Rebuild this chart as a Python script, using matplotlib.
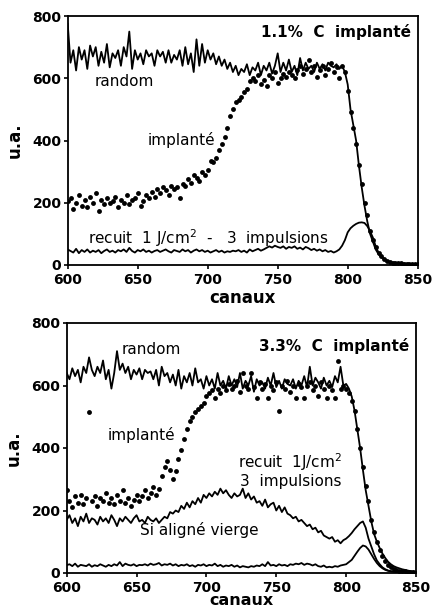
import numpy as np
import matplotlib
matplotlib.use("Agg")
import matplotlib.pyplot as plt

# channels (every 2 channels from 600 to 850)
canaux = np.arange(600, 851, 2)

# ---------------- panel 1 : 1.1% C implanté ----------------
random_1 = [775, 650, 690, 625, 700, 660, 690, 630, 705, 670,
            700, 640, 685, 650, 710, 635, 680, 665, 690, 640,
            700, 670, 750, 630, 690, 660, 680, 645, 690, 670,
            680, 640, 690, 670, 685, 650, 690, 650, 675, 660,
            690, 640, 700, 645, 680, 620, 725, 640, 710, 650,
            690, 660, 680, 645, 670, 640, 660, 630, 650, 620,
            640, 610, 630, 620, 645, 610, 635, 625, 650, 610,
            640, 625, 650, 615, 640, 680, 620, 650, 625, 660,
            620, 640, 610, 665, 625, 650, 630, 640, 620, 650,
            630, 645, 625, 650, 640, 635, 645, 630, 640, 620,
            580, 500, 450, 400, 320, 250, 190, 140, 100, 75,
            50, 35, 25, 18, 12, 8, 6, 5, 5, 4,
            4, 4, 3, 3, 3, 3]

implante_1 = [205, 215, 180, 200, 225, 190, 210, 185, 220, 200,
              230, 175, 210, 195, 215, 200, 205, 220, 185, 210,
              200, 225, 195, 210, 215, 230, 190, 205, 225, 215,
              235, 220, 245, 230, 250, 240, 225, 255, 245, 250,
              215, 260, 255, 275, 265, 290, 280, 270, 300, 290,
              305, 335, 330, 345, 370, 390, 410, 440, 480, 500,
              525, 530, 540, 555, 565, 590, 600, 590, 610, 580,
              595, 575, 610, 600, 620, 585, 600, 615, 605, 620,
              610, 600, 625, 640, 615, 630, 660, 620, 640, 605,
              625, 640, 610, 630, 650, 620, 635, 600, 640, 620,
              560, 490, 440, 390, 320, 260, 200, 160, 110, 80,
              58, 40, 28, 20, 14, 10, 8, 6, 5, 5,
              4, 4, 3, 3, 3, 2]

recuit_1 = [50, 45, 40, 52, 38, 48, 42, 50, 40, 46,
            42, 48, 38, 45, 50, 42, 46, 40, 48, 44,
            50, 42, 55, 45, 40, 48, 44, 50, 42, 46,
            40, 45, 48, 42, 46, 50, 44, 40, 48, 45,
            42, 50, 44, 48, 40, 46, 50, 44, 48, 42,
            46, 40, 44, 48, 42, 46, 40, 44, 42, 46,
            44, 48, 42, 46, 40, 50, 44, 48, 52, 46,
            50, 55, 60, 56, 62, 58, 55, 60, 52, 58,
            55, 60, 52, 56, 50, 58, 54, 48, 52, 46,
            50, 44, 48, 42, 45, 40, 44, 50, 62, 80,
            105, 118, 126, 132, 136, 137, 135, 125, 108, 88,
            60, 40, 28, 20, 14, 10, 8, 7, 6, 5,
            5, 4, 4, 3, 3, 3]

# ---------------- panel 2 : 3.3% C implanté ----------------
random_2 = [640, 620, 655, 630, 650, 610, 660, 640, 690, 650,
            630, 660, 640, 680, 620, 650, 590, 640, 710, 650,
            670, 640, 660, 620, 650, 635, 655, 620, 650, 640,
            645, 620, 650, 600, 660, 630, 640, 610, 635, 600,
            650, 590, 630, 610, 640, 600, 655, 610, 620, 590,
            630, 600, 620, 590, 640, 600, 615, 590, 630, 600,
            620, 595, 640, 590, 615, 600, 630, 580, 620, 600,
            610, 590, 625, 600, 640, 595, 615, 590, 620, 605,
            600, 620, 590, 615, 600, 630, 595, 660, 600, 625,
            610, 590, 625, 600, 615, 595, 630, 610, 660, 600,
            605, 590, 565, 520, 460, 400, 330, 265, 215, 165,
            125, 100, 80, 62, 48, 36, 28, 22, 18, 15,
            12, 10, 8, 6, 5, 4]

implante_2 = [265, 230, 210, 245, 225, 250, 220, 240, 515, 230,
              245, 215, 240, 230, 255, 225, 240, 220, 250, 230,
              265, 225, 240, 215, 235, 250, 230, 245, 265, 240,
              255, 275, 250, 270, 310, 340, 360, 330, 300, 325,
              365, 395, 430, 460, 485, 500, 515, 525, 535, 545,
              565, 575, 585, 560, 590, 575, 600, 585, 605, 590,
              600, 615, 580, 640, 600, 590, 640, 595, 560, 610,
              590, 605, 560, 600, 585, 610, 520, 600, 590, 615,
              580, 600, 560, 605, 595, 560, 600, 610, 585, 600,
              565, 610, 590, 560, 600, 585, 560, 680, 590, 600,
              590, 575, 550, 520, 460, 400, 340, 280, 230, 170,
              130, 100, 75, 55, 40, 25, 18, 14, 10, 8,
              6, 5, 4, 3, 2, 1]

recuit_2 = [170, 185, 160, 175, 150, 180, 165, 190, 160, 175,
            170, 155, 180, 165, 175, 160, 185, 170, 150, 175,
            165, 180, 170, 160, 175, 185, 165, 170, 160, 180,
            170, 165, 175, 160, 170, 180, 175, 195, 190, 200,
            195, 215, 205, 225, 210, 230, 220, 240, 225, 250,
            240, 255, 245, 260, 250, 270, 255, 265, 250, 240,
            255, 245, 250, 270, 240, 255, 235, 245, 225, 230,
            215, 235, 210, 220, 225, 200, 215, 195, 210, 190,
            185, 175, 180, 165, 170, 160, 150, 155, 140, 145,
            130, 135, 120, 115, 110, 115, 100, 105, 95, 105,
            110, 118, 128, 140, 150, 160, 165, 145, 110, 85,
            60, 40, 28, 18, 12, 8, 6, 5, 4, 4,
            4, 3, 3, 3, 2, 2]

vierge_2 = [25, 28, 22, 30, 20, 26, 24, 22, 28, 20,
            25, 22, 28, 24, 20, 26, 22, 28, 24, 35,
            22, 30, 26, 24, 28, 22, 26, 25, 28, 24,
            30, 26, 28, 32, 24, 28, 26, 30, 24, 28,
            22, 26, 24, 28, 22, 25, 20, 26, 24, 28,
            22, 26, 24, 30, 22, 26, 20, 24, 22, 26,
            20, 24, 18, 22, 20, 18, 22, 20, 24, 22,
            28, 22, 35, 24, 26, 22, 28, 24, 26, 22,
            28, 26, 30, 28, 32, 26, 30, 28, 24, 28,
            22, 20, 24, 18, 20, 18, 22, 20, 24, 26,
            28, 35, 42, 55, 68, 80, 88, 85, 75, 60,
            45, 32, 22, 15, 10, 7, 5, 4, 3, 3,
            2, 2, 2, 2, 1, 1]

xticks = [600, 650, 700, 750, 800, 850]
yticks = [0, 200, 400, 600, 800]

W, H = 434, 607
fig = plt.figure(figsize=(W / 100, H / 100), dpi=100)

ax1 = fig.add_axes([67.7 / W, 1 - 265 / H, 350 / W, 249 / H])
ax2 = fig.add_axes([66.7 / W, 1 - 573 / H, 349.3 / W, 250 / H])

LW = 1.3
MS = 3.5
ax1.plot(canaux, random_1, color="black", lw=LW)
ax1.plot(canaux, recuit_1, color="black", lw=LW)
ax1.plot(canaux, implante_1, "o", color="black", ms=MS, mec="none")

ax2.plot(canaux, random_2, color="black", lw=LW)
ax2.plot(canaux, recuit_2, color="black", lw=LW)
ax2.plot(canaux, vierge_2, color="black", lw=LW)
ax2.plot(canaux, implante_2, "o", color="black", ms=MS, mec="none")

for ax, lp, xfs in ((ax1, 2, 12), (ax2, -1.5, 11.5)):
    ax.set_xlim(600, 850)
    ax.set_ylim(0, 800)
    ax.set_xticks(xticks)
    ax.set_yticks(yticks)
    ax.set_xticklabels([str(v) for v in xticks], fontweight="bold", fontsize=10)
    ax.set_yticklabels([str(v) for v in yticks], fontweight="bold", fontsize=10)
    ax.tick_params(axis="both", direction="out", length=3, width=1.2, pad=1.5, colors="black")
    ax.tick_params(axis="x", pad=2.5)
    for s in ax.spines.values():
        s.set_linewidth(1.3)
        s.set_color("black")
    ax.set_xlabel("canaux", fontweight="bold", fontsize=xfs, labelpad=lp)
    ax.set_ylabel("u.a.", fontweight="bold", fontsize=12, labelpad=6)

tfs = 11
# panel 1 annotations
ax1.text(845, 748, "1.1%  C  implanté", fontweight="bold", fontsize=tfs, ha="right", va="center")
ax1.text(619.5, 590, "random", fontsize=tfs, ha="left", va="center")
ax1.text(657, 402, "implanté", fontsize=tfs, ha="left", va="center")
ax1.text(614.5, 87, "recuit  1 J/cm$^2$  -   3  impulsions", fontsize=tfs, ha="left", va="center")

# panel 2 annotations
ax2.text(845, 726, "3.3%  C  implanté", fontweight="bold", fontsize=tfs, ha="right", va="center")
ax2.text(639, 714, "random", fontsize=tfs, ha="left", va="center")
ax2.text(629.5, 442, "implanté", fontsize=tfs, ha="left", va="center")
ax2.text(760, 330, "recuit  1J/cm$^2$\n3  impulsions", fontsize=tfs, ha="center", va="center",
         linespacing=1.05)
ax2.text(652.5, 138, "Si aligné vierge", fontsize=tfs, ha="left", va="center")

fig.savefig("out.png", dpi=100, facecolor="white")
